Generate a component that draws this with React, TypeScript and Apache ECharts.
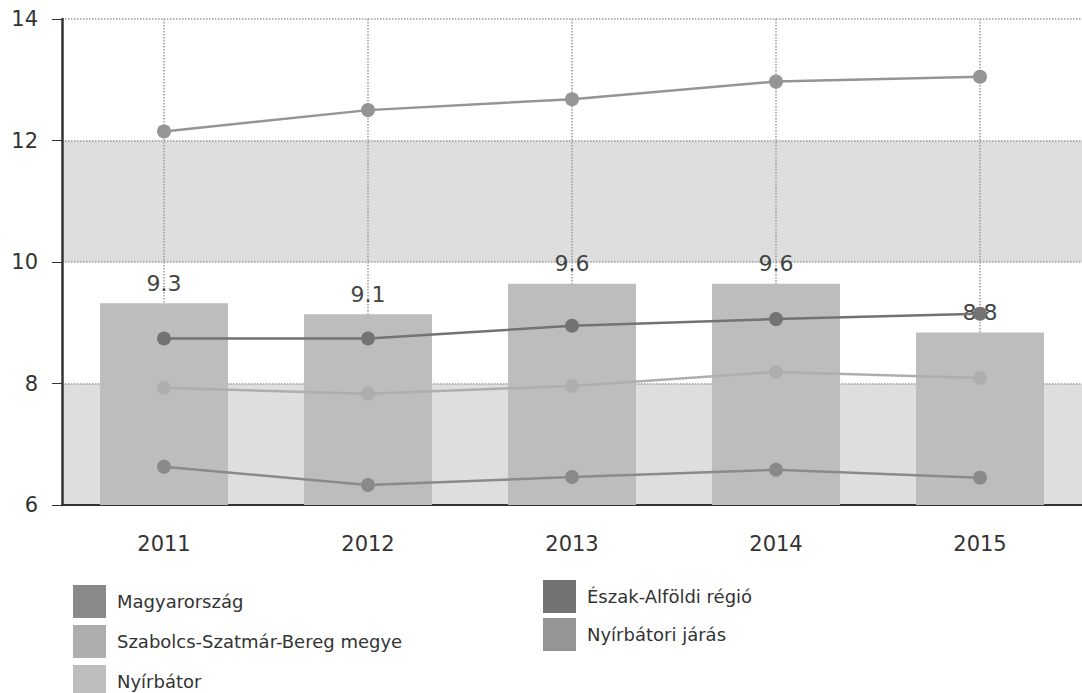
import React, { useEffect, useRef } from "react";
import * as echarts from "echarts";

const years = ["2011", "2012", "2013", "2014", "2015"];
const nyirbator = [9.32, 9.14, 9.64, 9.64, 8.84];
const magyarorszag = [6.63, 6.33, 6.46, 6.58, 6.45];
const szabolcs = [7.93, 7.83, 7.96, 8.19, 8.09];
const eszakAlfold = [8.74, 8.74, 8.95, 9.06, 9.15];
const nyirbatoriJaras = [12.15, 12.5, 12.68, 12.97, 13.05];
const yTicks = [6, 8, 10, 12, 14];

const FONT = "DejaVu Sans";

export default function App() {
  const ref = useRef<HTMLDivElement>(null);
  useEffect(() => {
    if (!ref.current) return;
    const chart = echarts.init(ref.current, undefined, { renderer: "svg" });
    const lineSeries = (name: string, data: number[], color: string) => ({
      name,
      type: "line",
      data,
      symbol: "circle",
      symbolSize: 14,
      z: 5,
      lineStyle: { color, width: 2.5 },
      itemStyle: { color },
    });
    chart.setOption({
      animation: false,
      textStyle: { fontFamily: FONT },
      grid: { left: 62, top: 19, width: 1029, height: 486, containLabel: false },
      legend: [
        {
          type: "plain",
          orient: "vertical",
          left: 73,
          top: 585,
          height: 140,
          width: 400,
          padding: 0,
          icon: "rect",
          itemWidth: 33,
          itemHeight: 33,
          itemGap: 7,
          textStyle: { fontSize: 18, color: "#333", fontFamily: FONT, padding: [0, 0, 0, 6] },
          data: ["Magyarország", "Szabolcs-Szatmár-Bereg megye", "Nyírbátor"],
        },
        {
          type: "plain",
          orient: "vertical",
          left: 543,
          top: 580,
          height: 100,
          width: 300,
          padding: 0,
          icon: "rect",
          itemWidth: 33,
          itemHeight: 33,
          itemGap: 5,
          textStyle: { fontSize: 18, color: "#333", fontFamily: FONT, padding: [0, 0, 0, 6] },
          data: ["Észak-Alföldi régió", "Nyírbátori járás"],
        },
      ],
      xAxis: {
        type: "category",
        data: years,
        axisLine: { lineStyle: { color: "#333", width: 2 } },
        axisTick: { alignWithLabel: true, length: 10, lineStyle: { color: "#333" } },
        axisLabel: { fontSize: 21, color: "#333", margin: 28, fontFamily: FONT },
        splitLine: {
          show: true,
          alignWithLabel: true,
          lineStyle: { color: "#9a9a9a", type: "dotted", width: 1.5 },
        },
      },
      yAxis: {
        type: "value",
        min: yTicks[0],
        max: yTicks[yTicks.length - 1],
        interval: 2,
        axisLine: { show: true, lineStyle: { color: "#333", width: 2.5 } },
        axisTick: { show: true, length: 10, lineStyle: { color: "#333" } },
        axisLabel: { fontSize: 21, color: "#333", margin: 24, fontFamily: FONT },
        splitLine: { show: true, lineStyle: { color: "#9a9a9a", type: "dotted", width: 1.5 } },
        splitArea: { show: true, areaStyle: { color: ["#dedede", "#ffffff"] } },
      },
      series: [
        {
          name: "Nyírbátor",
          type: "bar",
          data: nyirbator,
          barWidth: 128,
          z: 2,
          itemStyle: { color: "#bdbdbd" },
          label: {
            show: true,
            position: "top",
            distance: 9,
            fontSize: 22,
            color: "#444",
            fontFamily: FONT,
            formatter: (p: any) => Number(p.value).toFixed(1),
          },
        },
        lineSeries("Magyarország", magyarorszag, "#8a8a8a"),
        lineSeries("Szabolcs-Szatmár-Bereg megye", szabolcs, "#aeaeae"),
        lineSeries("Észak-Alföldi régió", eszakAlfold, "#737373"),
        lineSeries("Nyírbátori járás", nyirbatoriJaras, "#959595"),
      ],
    });
    return () => chart.dispose();
  }, []);
  return (
    <div
      ref={ref}
      style={{ position: "fixed", left: 0, top: 0, width: 1082, height: 693, background: "#fff" }}
    />
  );
}
